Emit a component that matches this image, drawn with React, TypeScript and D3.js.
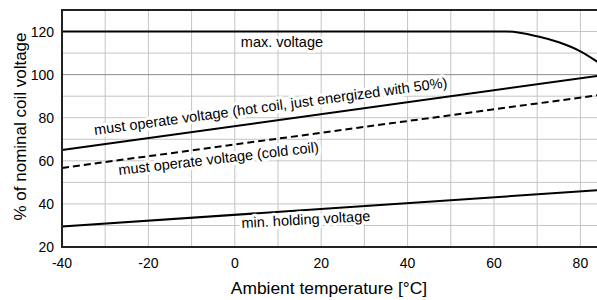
import * as d3 from 'd3';
import React from 'react';

const width = 597;
const height = 300;
const margin = { top: 10, right: -5, bottom: 53, left: 62 };

const xTicks = [-40, -20, 0, 20, 40, 60, 80];
const yTicks = [20, 40, 60, 80, 100, 120];
const xGrid = d3.range(-40, 90, 10);
const yGrid = d3.range(20, 131, 10);

const maxTemp = [-40, 63, 70, 75, 80, 85];
const maxVolt = [120, 120, 117.8, 115, 110.8, 104.5];
const hotTemp = [-40, 85];
const hotVolt = [65, 99.7];
const coldTemp = [-40, 85];
const coldVolt = [56.7, 90.7];
const minTemp = [-40, 85];
const minVolt = [29.5, 46.5];

const labels = [
  { text: 'max. voltage', t: 1.4, v: 112.8, angle: 0 },
  { text: 'must operate voltage (hot coil, just energized with 50%)', t: -32.4, v: 72, angle: -7.7 },
  { text: 'must operate voltage (cold coil)', t: -26.8, v: 53.4, angle: -6.6 },
  { text: 'min. holding voltage', t: 1.6, v: 28.8, angle: -3.2 },
];

const font = "'Liberation Sans', Arial, sans-serif";

export default function App() {
  const x = d3
    .scaleLinear()
    .domain([-40, 85])
    .range([margin.left, width - margin.right]);
  const y = d3
    .scaleLinear()
    .domain([20, 130])
    .range([height - margin.bottom, margin.top]);

  const line = d3
    .line<[number, number]>()
    .x(d => x(d[0]))
    .y(d => y(d[1]));
  const maxLine = d3
    .line<[number, number]>()
    .x(d => x(d[0]))
    .y(d => y(d[1]))
    .curve(d3.curveMonotoneX);

  const zip = (a: number[], b: number[]) => a.map((t, i) => [t, b[i]] as [number, number]);

  return (
    <svg width={width} height={height} style={{ position: 'absolute', left: 0, top: 0 }} fontFamily={font}>
      <rect width={width} height={height} fill="#fff" />
      <g>
        {xGrid.map(t => (
          <line key={'gx' + t} x1={x(t)} x2={x(t)} y1={y(20)} y2={y(130)} stroke="#c4c4c4" strokeWidth={1} />
        ))}
        {yGrid.map(v => (
          <line
            key={'gy' + v}
            x1={x(-40)}
            x2={width}
            y1={y(v)}
            y2={y(v)}
            stroke={v === 100 ? '#8a8a8a' : '#c4c4c4'}
            strokeWidth={1}
          />
        ))}
      </g>
      <path d={maxLine(zip(maxTemp, maxVolt)) || ''} fill="none" stroke="#000" strokeWidth={2} />
      <path d={line(zip(hotTemp, hotVolt)) || ''} fill="none" stroke="#000" strokeWidth={2} />
      <path d={line(zip(coldTemp, coldVolt)) || ''} fill="none" stroke="#000" strokeWidth={2} strokeDasharray="7,4" />
      <path d={line(zip(minTemp, minVolt)) || ''} fill="none" stroke="#000" strokeWidth={2} />
      {labels.map(l => (
        <g key={l.text} transform={`translate(${x(l.t)},${y(l.v)}) rotate(${l.angle})`} fontSize={14.5}>
          <text fill="#fff" stroke="#fff" strokeWidth={6} strokeLinejoin="round">
            {l.text}
          </text>
          <text fill="#000">{l.text}</text>
        </g>
      ))}
      <line x1={x(-40)} x2={width} y1={y(130)} y2={y(130)} stroke="#222" strokeWidth={2} />
      <line x1={x(-40)} x2={width} y1={y(20)} y2={y(20)} stroke="#222" strokeWidth={2} />
      <line x1={x(-40)} x2={x(-40)} y1={y(130) - 1} y2={y(20) + 1} stroke="#222" strokeWidth={2} />
      {xTicks.map(t => (
        <text key={'xt' + t} x={x(t)} y={268} fontSize={14} textAnchor="middle" fill="#000">
          {t}
        </text>
      ))}
      {yTicks.map(v => (
        <text key={'yt' + v} x={54} y={y(v) + 5} fontSize={14} textAnchor="end" fill="#000">
          {v}
        </text>
      ))}
      <text x={329} y={294} fontSize={17.4} textAnchor="middle" fill="#000">
        Ambient temperature [°C]
      </text>
      <text transform="translate(25.5,126.5) rotate(-90)" fontSize={17} textAnchor="middle" fill="#000">
        % of nominal coil voltage
      </text>
    </svg>
  );
}
